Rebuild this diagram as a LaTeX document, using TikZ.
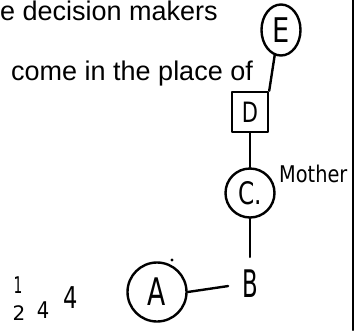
\documentclass[tikz,border=0pt]{standalone}
\usepackage{fontspec}
\usepackage{graphicx}
\setmainfont{Liberation Sans}
\newfontfamily\handfont{DejaVu Sans}
\usetikzlibrary{shapes.geometric}
\begin{document}
\begin{tikzpicture}[x=1pt,y=-1pt,line cap=round,line join=round,
  ink/.style={line width=2.4pt,black},
  printed/.style={inner sep=0pt,font=\fontsize{27}{27}\selectfont},
  hand/.style={inner sep=0pt,font=\handfont\fontsize{#1}{#1}\selectfont},
  hand/.default=30,
  ringnode/.style={draw,ink,circle,inner sep=0pt,minimum size=#1},
  boxnode/.style={draw,ink,rectangle,inner sep=0pt,minimum width=36pt,minimum height=40pt}
]
\useasboundingbox (0,0) rectangle (358,330);
\fill[white] (0,0) rectangle (358,330);

% printed text
\node[printed,anchor=base west] (t1) at (0,20.5) {e decision makers};
\node[printed,anchor=base west] (t2) at (11,80) {come in the place of};
\node[hand=23,anchor=base west] (mother) at (279,182) {\scalebox{0.84}[1]{Mother}};

% binding edge
\coordinate (bt) at (353,0);
\coordinate (bb) at (353,330);
\draw[line width=2.5pt] (bt) -- (bb);

% tree nodes
\node[draw,ink,ellipse,inner sep=0pt,minimum width=39pt,minimum height=51pt,
      font=\handfont\fontsize{34}{34}\selectfont] (E) at (281,30) {\scalebox{0.8}[1]{E}};
\node[boxnode,font=\handfont\fontsize{28}{28}\selectfont] (D) at (250,112) {\scalebox{0.75}[1]{D}};
\node[ringnode=49pt,font=\handfont\fontsize{31}{31}\selectfont] (C) at (250,193) {\scalebox{0.75}[1]{C.}};
\node[ringnode=59pt,font=\handfont\fontsize{38}{38}\selectfont] (A) at (157,292) {\scalebox{0.7}[1]{A}};
\node[hand=38] (B) at (250,284) {\scalebox{0.6}[1]{B}};

% connectors
\draw[ink] (E.-104) -- (D.north east);
\draw[ink] (D.south) -- (C.north);
\draw[ink,shorten >=13pt] (C.south) -- (B.north);
\draw[ink,shorten >=14pt] (A.east) -- (B.west);

% dot above A
\fill (172,260) circle (1.6pt);

% handwritten numbers
\node[hand=23] (n1) at (18,285) {\scalebox{0.6}[1]{1}};
\node[hand=20] (n2) at (19,313) {2};
\node[hand=23] (n3) at (43,310) {\scalebox{0.85}[1]{4}};
\node[hand=30] (n4) at (71,298) {\scalebox{0.75}[1]{4}};
\end{tikzpicture}
\end{document}
